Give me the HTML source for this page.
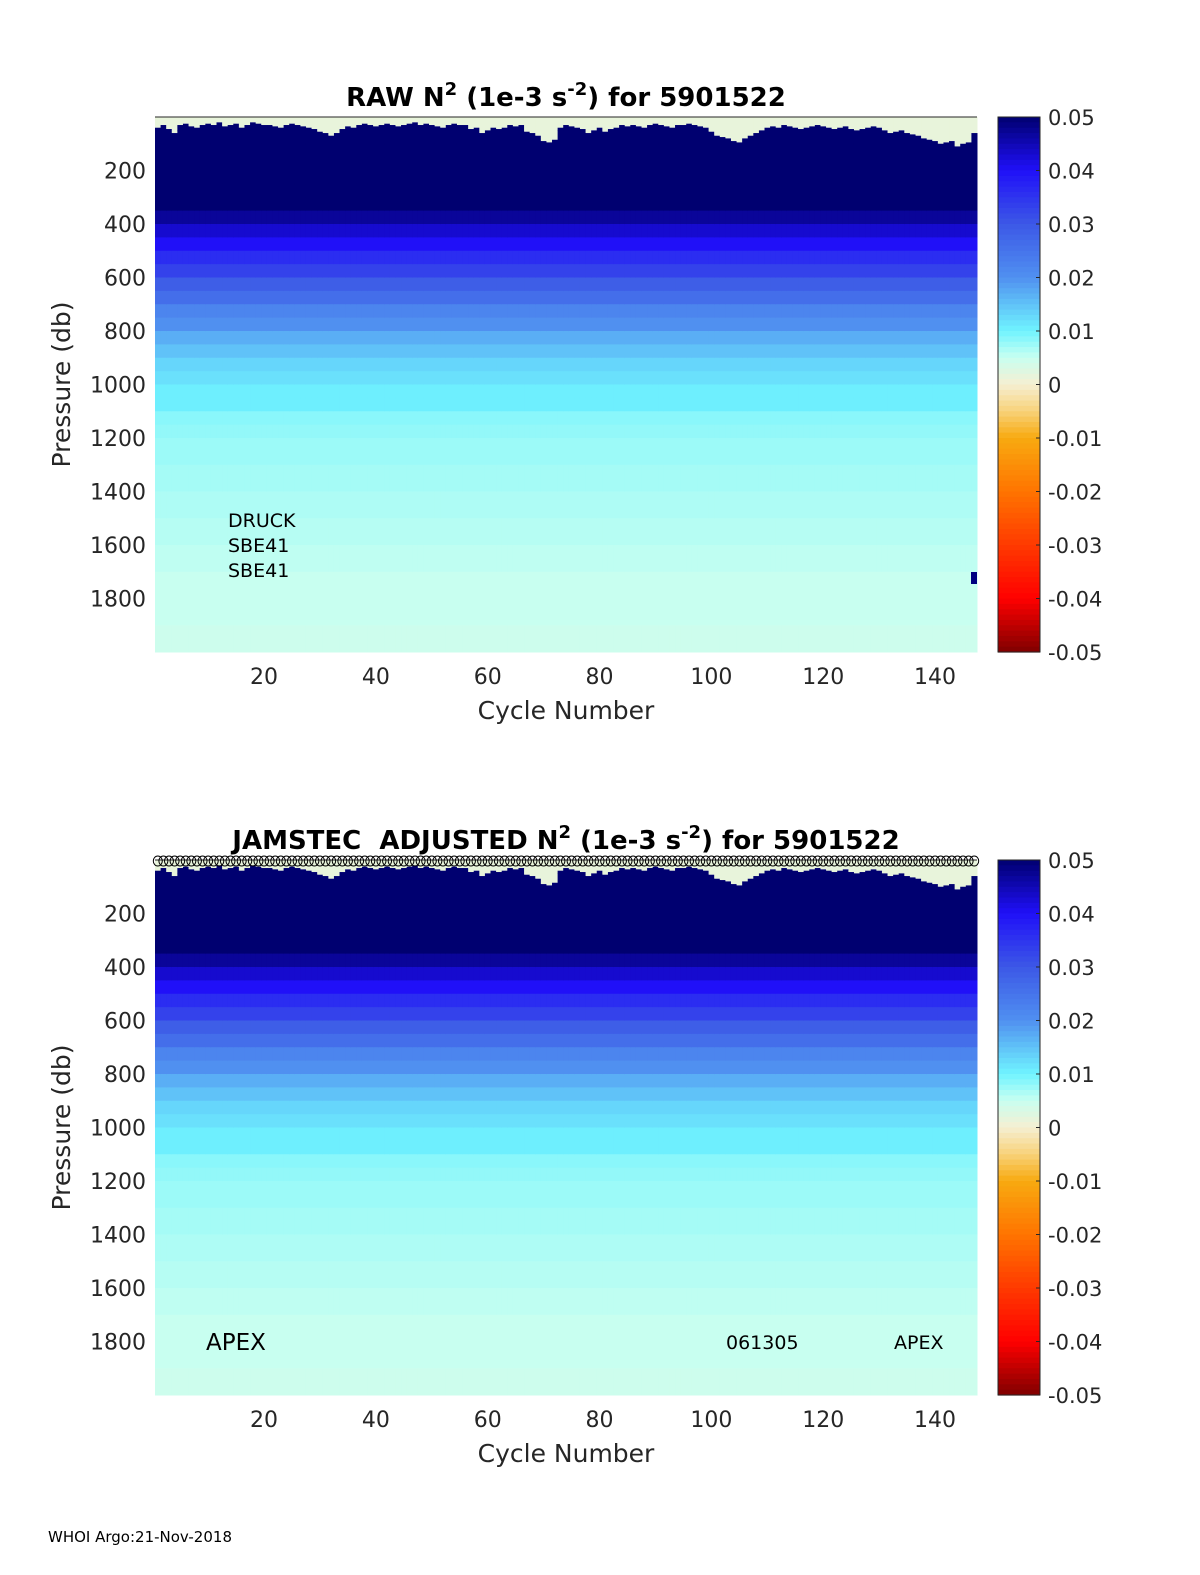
<!DOCTYPE html>
<html><head><meta charset="utf-8">
<style>
html,body{margin:0;padding:0;background:#fff;overflow:hidden;width:1200px;height:1575px;}
svg{display:block;}
svg text{font-family:"DejaVu Sans","Liberation Sans",sans-serif;fill:#262626;}
</style></head>
<body>
<svg id="fig" width="1200" height="1575" viewBox="0 0 1200 1575" xmlns="http://www.w3.org/2000/svg">
<rect width="1200" height="1575" fill="#fff"/>
<g id="p1"></g>
<g id="p2"></g>
<text x="566" y="106" text-anchor="middle" font-size="26" font-weight="bold" style="fill:#000">RAW N<tspan dy="-11" font-size="18">2</tspan><tspan dy="11"> (1e-3 s</tspan><tspan dy="-11" font-size="18">-2</tspan><tspan dy="11">) for 5901522</tspan></text>
<text x="566" y="849" text-anchor="middle" font-size="26" font-weight="bold" style="fill:#000">JAMSTEC&#160;&#160;ADJUSTED N<tspan dy="-11" font-size="18">2</tspan><tspan dy="11"> (1e-3 s</tspan><tspan dy="-11" font-size="18">-2</tspan><tspan dy="11">) for 5901522</tspan></text>
<text x="228" y="527" font-size="19" style="fill:#000">DRUCK</text>
<text x="228" y="552" font-size="19" style="fill:#000">SBE41</text>
<text x="228" y="577" font-size="19" style="fill:#000">SBE41</text>
<text x="206" y="1350" font-size="23" style="fill:#000">APEX</text>
<text x="726" y="1349" font-size="19" style="fill:#000">061305</text>
<text x="894" y="1349" font-size="19" style="fill:#000">APEX</text>
<text x="48" y="1542" font-size="15" style="fill:#000">WHOI Argo:21-Nov-2018</text>
</svg>
<script>
// ---- data ----
const depthBins = [0,50,100,150,200,250,300,350,400,450,500,550,600,650,700,750,800,850,900,950,1000,1050,1100,1150,1200,1300,1400,1500,1600,1700,1800,1900];
const profileN2 = [0.06,0.06,0.058,0.056,0.054,0.052,0.05,0.047,0.043,0.04,0.036,0.033,0.029,0.026,0.022,0.02,0.017,0.015,0.013,0.012,0.0105,0.0105,0.0085,0.008,0.0075,0.007,0.0065,0.006,0.0055,0.005,0.005,0.0045];
const mixedLayer = [40,30,45,60,30,25,35,40,30,25,30,20,35,30,25,40,30,20,25,30,30,35,40,30,25,30,35,40,45,55,60,70,60,45,35,40,30,25,30,35,30,25,30,35,30,25,20,30,25,30,35,40,30,25,30,30,45,40,60,50,40,45,40,30,35,30,55,60,70,90,95,85,40,30,35,40,45,60,50,40,55,45,40,30,35,30,35,40,30,25,30,35,40,30,30,25,30,35,40,55,70,75,80,90,95,80,70,60,50,40,35,40,30,35,40,45,40,35,30,35,40,45,40,35,45,50,45,40,35,40,50,60,55,50,60,65,70,80,85,90,100,95,90,110,100,95,60];
const xTicks = [20,40,60,80,100,120,140];
const yTicks = [200,400,600,800,1000,1200,1400,1600,1800];
const cbTicks = [0.05,0.04,0.03,0.02,0.01,0,-0.01,-0.02,-0.03,-0.04,-0.05];
const cmapVals = [-0.05,-0.04,-0.03,-0.02,-0.01,-0.005,0,0.005,0.01,0.02,0.03,0.04,0.05];
const cmapCols = ["#800000","#ff0000","#ff3a00","#ff7400","#f8aa10","#f8d27a","#f5efd2","#c8fff0","#70f4ff","#5090f0","#3c58e6","#2010f8","#000070"];
// ---- helpers ----
const NS="http://www.w3.org/2000/svg";
const X0=155,X1=977,XMIN=0.5,XMAX=147.5;
const PMAX=2000;
function xScale(c){return X0+(c-XMIN)/(XMAX-XMIN)*(X1-X0);}
function hex(h){return [1,3,5].map(i=>parseInt(h.substr(i,2),16));}
function cmap(v){
  if(v>=cmapVals[cmapVals.length-1])return cmapCols[cmapCols.length-1];
  if(v<=cmapVals[0])return cmapCols[0];
  for(let i=0;i<cmapVals.length-1;i++){
    if(v<=cmapVals[i+1]){const t=(v-cmapVals[i])/(cmapVals[i+1]-cmapVals[i]);
      const a=hex(cmapCols[i]),b=hex(cmapCols[i+1]);
      return "rgb("+a.map((x,k)=>Math.round(x+(b[k]-x)*t)).join(",")+")";}
  }
}
function mk(tag,attrs,parent){const e=document.createElementNS(NS,tag);for(const k in attrs)e.setAttribute(k,attrs[k]);parent.appendChild(e);return e;}
function drawPanel(g,Y0,Y1,circles){
  const yScale=p=>Y0+p/PMAX*(Y1-Y0);
  for(let c=1;c<=mixedLayer.length;c++){
    const x0=xScale(c-0.5),x1=xScale(c+0.5);
    const s=mk("rect",{x:x0,y:Y0,width:x1-x0+0.5,height:yScale(mixedLayer[c-1])-Y0,fill:cmap(0.0015)},g);
    
    
    for(let d=0;d<depthBins.length;d++){
      const top=Math.max(depthBins[d],mixedLayer[c-1]);
      const bot=d+1<depthBins.length?depthBins[d+1]:PMAX;
      if(bot<=top)continue;
      const r=mk("rect",{x:x0,y:yScale(top),width:x1-x0+0.5,height:yScale(bot)-yScale(top)+0.5,fill:cmap(profileN2[d])},g);
      
      
    }
  }
  const ax=mk("line",{x1:X0,x2:X1,y1:Y0,y2:Y0,stroke:"#262626","stroke-width":1},g);
  
  
  xTicks.forEach(t=>{const tx=mk("text",{x:xScale(t),y:Y1+32,"text-anchor":"middle","font-size":22},g);tx.textContent=t;
    
    });
  yTicks.forEach(t=>{const tx=mk("text",{x:146,y:yScale(t)+8,"text-anchor":"end","font-size":22},g);tx.textContent=t;
    
    });
  const xl=mk("text",{x:566,y:Y1+67,"text-anchor":"middle","font-size":25},g);xl.textContent="Cycle Number";
  
  
  const ym=(Y0+Y1)/2;
  const yl=mk("text",{x:70,y:ym,"text-anchor":"middle","font-size":25,transform:"rotate(-90 70 "+ym+")"},g);yl.textContent="Pressure (db)";
  
  
  const CB0=998,CB1=1040,n=100;
  for(let i=0;i<n;i++){const v=0.05-(i+0.5)/n*0.1;
    const r=mk("rect",{x:CB0,y:Y0+i*(Y1-Y0)/n,width:CB1-CB0,height:(Y1-Y0)/n+0.6,fill:cmap(v)},g);
    
    }
  const fr=mk("rect",{x:CB0,y:Y0,width:CB1-CB0,height:Y1-Y0,fill:"none",stroke:"#262626","stroke-width":1},g);
  
  
  cbTicks.forEach(t=>{const y=Y0+(0.05-t)/0.1*(Y1-Y0);
    mk("line",{x1:CB1-4,x2:CB1,y1:y,y2:y,stroke:"#262626"},g);
    const tx=mk("text",{x:1048,y:y+8,"font-size":21},g);tx.textContent=t;
    
    });
  if(circles){
    for(let c=1;c<=mixedLayer.length;c++){
      const ci=mk("ellipse",{cx:xScale(c),cy:Y0+1,rx:4.5,ry:5,fill:"none",stroke:"#000","stroke-width":1},g);
      
      
    }
  }
}
drawPanel(document.getElementById("p1"),117,652,false);
drawPanel(document.getElementById("p2"),860,1395,true);
const mark=mk("rect",{x:971,y:572,width:6,height:12,fill:"#000080"},document.getElementById("p1"));


</script>
</body></html>
